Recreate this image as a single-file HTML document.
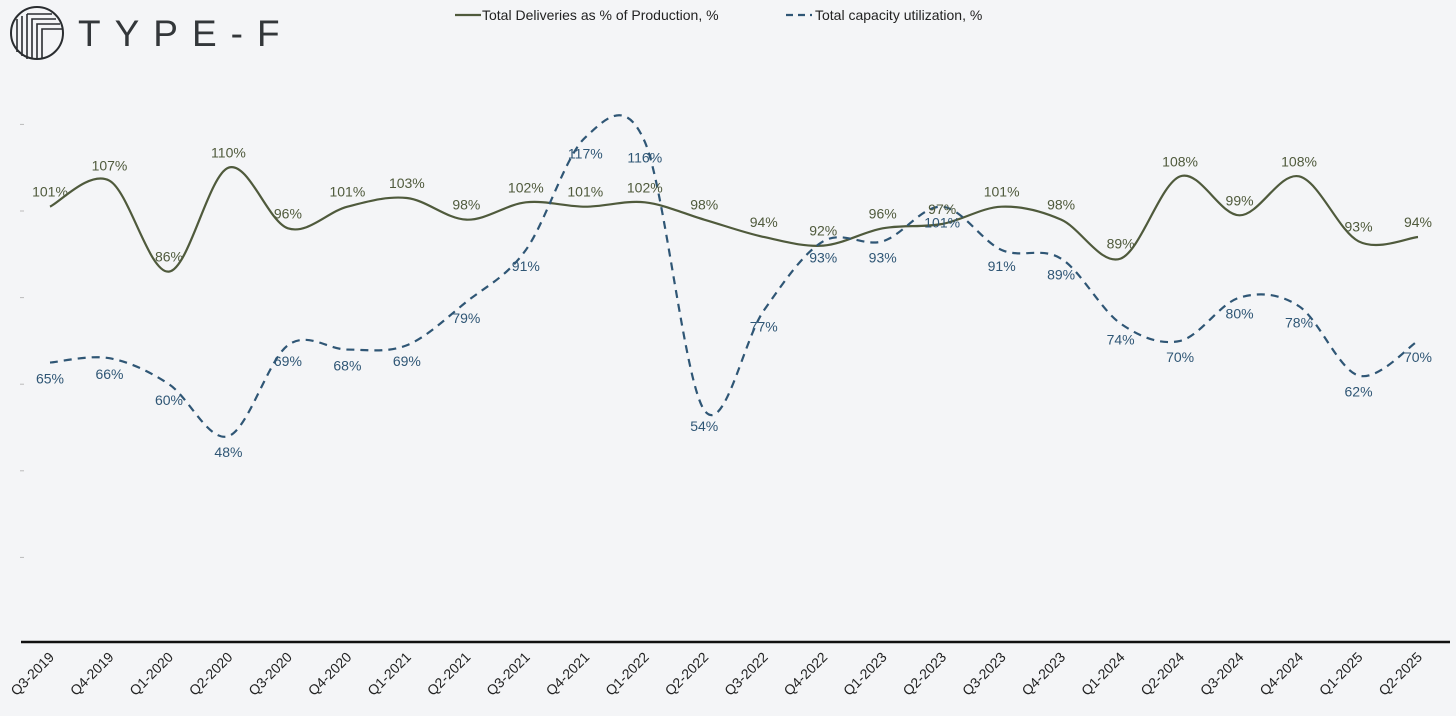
<!DOCTYPE html>
<html><head><meta charset="utf-8"><style>
body{margin:0;background:#f4f5f7;font-family:"Liberation Sans",sans-serif;}
svg{display:block}
</style></head><body>
<svg id="chart" width="1456" height="716" viewBox="0 0 1456 716" xmlns="http://www.w3.org/2000/svg">
<rect width="1456" height="716" fill="#f4f5f7"/>
<g>
<circle cx="37" cy="33" r="26" fill="none" stroke="#2a2d30" stroke-width="2"/>
<path d="M17,52 V19 M22,56 V16 M27,59 V14 M27,14 H52 M32,59 V19 H56 M37,59 V24 H60 M42,59 V29 H62" fill="none" stroke="#2a2d30" stroke-width="1.6"/>
<text x="78" y="46" font-size="37" fill="#33373a" letter-spacing="14" font-weight="300">TYPE-F</text>
</g>
<g>
<line x1="455" y1="15" x2="481" y2="15" stroke="#4f5a3c" stroke-width="2.2"/>
<text x="482" y="20" font-size="14" fill="#222">Total Deliveries as % of Production, %</text>
<line x1="786" y1="15" x2="812" y2="15" stroke="#2f5675" stroke-width="2.2" stroke-dasharray="7,5"/>
<text x="815" y="20" font-size="14" fill="#222">Total capacity utilization, %</text>
</g>
<g id="plot"></g>
</svg>
<script>
const categories=["Q3-2019","Q4-2019","Q1-2020","Q2-2020","Q3-2020","Q4-2020","Q1-2021","Q2-2021","Q3-2021","Q4-2021","Q1-2022","Q2-2022","Q3-2022","Q4-2022","Q1-2023","Q2-2023","Q3-2023","Q4-2023","Q1-2024","Q2-2024","Q3-2024","Q4-2024","Q1-2025","Q2-2025"];
const deliveries=[101,107,86,110,96,101,103,98,102,101,102,98,94,92,96,97,101,98,89,108,99,108,93,94];
const capacity=[65,66,60,48,69,68,69,79,91,117,116,54,77,93,93,101,91,89,74,70,80,78,62,70];
const yTicks=[0,20,40,60,80,100,120];
const NS="http://www.w3.org/2000/svg";
const plot=document.getElementById('plot');
const x=i=>50+i*(1418-50)/(categories.length-1);
const y=v=>644-v*4.33;
function mk(t,a){const e=document.createElementNS(NS,t);for(const k in a)e.setAttribute(k,a[k]);plot.appendChild(e);return e;}
yTicks.forEach(v=>{if(v===0)return;const t=mk('line',{x1:20,x2:24,y1:y(v),y2:y(v),stroke:'#bbb','stroke-width':1});

});
const ax=mk('line',{x1:21,x2:1450,y1:642,y2:642,stroke:'#111','stroke-width':2.5});


categories.forEach((c,i)=>{const t=mk('text',{x:x(i)+5,y:658,'font-size':14,fill:'#222','text-anchor':'end',transform:`rotate(-45 ${x(i)+5} 658)`});t.textContent=c;

});
function path(vals){const p=vals.map((v,i)=>[x(i),y(v)]);let d=`M${p[0][0]},${p[0][1]}`;
for(let i=0;i<p.length-1;i++){const p0=p[i-1]||p[i],p1=p[i],p2=p[i+1],p3=p[i+2]||p2;const k=1/6;
d+=` C${p1[0]+(p2[0]-p0[0])*k},${p1[1]+(p2[1]-p0[1])*k} ${p2[0]-(p3[0]-p1[0])*k},${p2[1]-(p3[1]-p1[1])*k} ${p2[0]},${p2[1]}`;}return d;}
const l1=mk('path',{d:path(deliveries),fill:'none',stroke:'#4f5a3c','stroke-width':2.2});


const l2=mk('path',{d:path(capacity),fill:'none',stroke:'#2f5675','stroke-width':2.2,'stroke-dasharray':'8,6'});


deliveries.forEach((v,i)=>{const t=mk('text',{x:x(i),y:y(v)-10,'font-size':14,fill:'#4f5a3c','text-anchor':'middle'});t.textContent=v+'%';

});
capacity.forEach((v,i)=>{const t=mk('text',{x:x(i),y:y(v)+21,'font-size':14,fill:'#2f5675','text-anchor':'middle'});t.textContent=v+'%';

});
</script>
</body></html>
